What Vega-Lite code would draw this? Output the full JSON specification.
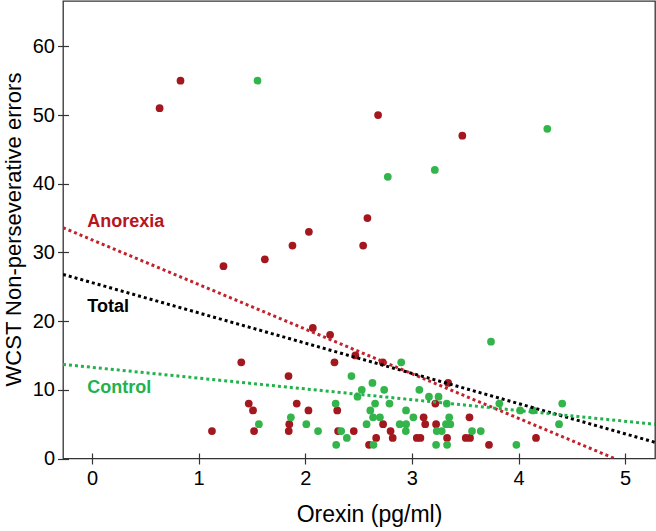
{
  "$schema": "https://vega.github.io/schema/vega-lite/v6.json",
  "width": 592,
  "height": 457.5,
  "autosize": "none",
  "padding": {"left": 63, "top": 1, "right": 1, "bottom": 72.5},
  "background": "white",
  "config": {
    "view": {"stroke": "#333", "strokeWidth": 1.3},
    "font": "Liberation Sans"
  },
  "datasets": {
    "points": [
      {"group": "Anorexia", "orexin": 0.634, "wcst": 51},
      {"group": "Anorexia", "orexin": 0.83, "wcst": 55},
      {"group": "Anorexia", "orexin": 2.683, "wcst": 50},
      {"group": "Anorexia", "orexin": 3.473, "wcst": 47},
      {"group": "Anorexia", "orexin": 2.583, "wcst": 35},
      {"group": "Anorexia", "orexin": 2.034, "wcst": 33},
      {"group": "Anorexia", "orexin": 2.543, "wcst": 31},
      {"group": "Anorexia", "orexin": 1.88, "wcst": 31},
      {"group": "Anorexia", "orexin": 1.621, "wcst": 29},
      {"group": "Anorexia", "orexin": 1.233, "wcst": 28},
      {"group": "Anorexia", "orexin": 2.071, "wcst": 19},
      {"group": "Anorexia", "orexin": 2.233, "wcst": 18},
      {"group": "Anorexia", "orexin": 2.47, "wcst": 15},
      {"group": "Anorexia", "orexin": 1.4, "wcst": 14},
      {"group": "Anorexia", "orexin": 2.274, "wcst": 14},
      {"group": "Anorexia", "orexin": 2.727, "wcst": 14},
      {"group": "Anorexia", "orexin": 1.843, "wcst": 12},
      {"group": "Anorexia", "orexin": 3.34, "wcst": 11},
      {"group": "Anorexia", "orexin": 1.47, "wcst": 8},
      {"group": "Anorexia", "orexin": 1.92, "wcst": 8},
      {"group": "Anorexia", "orexin": 3.22, "wcst": 8},
      {"group": "Anorexia", "orexin": 1.51, "wcst": 7},
      {"group": "Anorexia", "orexin": 2.03, "wcst": 7},
      {"group": "Anorexia", "orexin": 2.3, "wcst": 7},
      {"group": "Anorexia", "orexin": 3.11, "wcst": 6},
      {"group": "Anorexia", "orexin": 3.54, "wcst": 6},
      {"group": "Anorexia", "orexin": 1.85, "wcst": 5},
      {"group": "Anorexia", "orexin": 2.73, "wcst": 5},
      {"group": "Anorexia", "orexin": 3.125, "wcst": 5},
      {"group": "Anorexia", "orexin": 3.227, "wcst": 5},
      {"group": "Anorexia", "orexin": 1.125, "wcst": 4},
      {"group": "Anorexia", "orexin": 1.52, "wcst": 4},
      {"group": "Anorexia", "orexin": 1.845, "wcst": 4},
      {"group": "Anorexia", "orexin": 2.308, "wcst": 4},
      {"group": "Anorexia", "orexin": 2.455, "wcst": 4},
      {"group": "Anorexia", "orexin": 2.8, "wcst": 4},
      {"group": "Anorexia", "orexin": 2.665, "wcst": 3},
      {"group": "Anorexia", "orexin": 2.82, "wcst": 3},
      {"group": "Anorexia", "orexin": 3.046, "wcst": 3},
      {"group": "Anorexia", "orexin": 3.08, "wcst": 3},
      {"group": "Anorexia", "orexin": 3.33, "wcst": 3},
      {"group": "Anorexia", "orexin": 3.505, "wcst": 3},
      {"group": "Anorexia", "orexin": 3.545, "wcst": 3},
      {"group": "Anorexia", "orexin": 4.164, "wcst": 3},
      {"group": "Anorexia", "orexin": 2.598, "wcst": 2},
      {"group": "Anorexia", "orexin": 3.723, "wcst": 2},
      {"group": "Control", "orexin": 1.552, "wcst": 55},
      {"group": "Control", "orexin": 2.774, "wcst": 41},
      {"group": "Control", "orexin": 3.215, "wcst": 42},
      {"group": "Control", "orexin": 4.27, "wcst": 48},
      {"group": "Control", "orexin": 3.742, "wcst": 17},
      {"group": "Control", "orexin": 2.9, "wcst": 14},
      {"group": "Control", "orexin": 2.433, "wcst": 12},
      {"group": "Control", "orexin": 2.63, "wcst": 11},
      {"group": "Control", "orexin": 2.53, "wcst": 10},
      {"group": "Control", "orexin": 2.74, "wcst": 10},
      {"group": "Control", "orexin": 3.07, "wcst": 10},
      {"group": "Control", "orexin": 2.49, "wcst": 9},
      {"group": "Control", "orexin": 3.16, "wcst": 9},
      {"group": "Control", "orexin": 3.25, "wcst": 9},
      {"group": "Control", "orexin": 2.285, "wcst": 8},
      {"group": "Control", "orexin": 2.655, "wcst": 8},
      {"group": "Control", "orexin": 2.79, "wcst": 8},
      {"group": "Control", "orexin": 3.327, "wcst": 8},
      {"group": "Control", "orexin": 3.82, "wcst": 8},
      {"group": "Control", "orexin": 4.41, "wcst": 8},
      {"group": "Control", "orexin": 2.61, "wcst": 7},
      {"group": "Control", "orexin": 2.945, "wcst": 7},
      {"group": "Control", "orexin": 4.015, "wcst": 7},
      {"group": "Control", "orexin": 4.135, "wcst": 7},
      {"group": "Control", "orexin": 1.865, "wcst": 6},
      {"group": "Control", "orexin": 2.636, "wcst": 6},
      {"group": "Control", "orexin": 2.7, "wcst": 6},
      {"group": "Control", "orexin": 3.014, "wcst": 6},
      {"group": "Control", "orexin": 3.35, "wcst": 6},
      {"group": "Control", "orexin": 1.565, "wcst": 5},
      {"group": "Control", "orexin": 2.01, "wcst": 5},
      {"group": "Control", "orexin": 2.575, "wcst": 5},
      {"group": "Control", "orexin": 2.886, "wcst": 5},
      {"group": "Control", "orexin": 2.946, "wcst": 5},
      {"group": "Control", "orexin": 3.32, "wcst": 5},
      {"group": "Control", "orexin": 3.36, "wcst": 5},
      {"group": "Control", "orexin": 4.38, "wcst": 5},
      {"group": "Control", "orexin": 2.12, "wcst": 4},
      {"group": "Control", "orexin": 2.337, "wcst": 4},
      {"group": "Control", "orexin": 2.943, "wcst": 4},
      {"group": "Control", "orexin": 3.233, "wcst": 4},
      {"group": "Control", "orexin": 3.28, "wcst": 4},
      {"group": "Control", "orexin": 3.564, "wcst": 4},
      {"group": "Control", "orexin": 3.646, "wcst": 4},
      {"group": "Control", "orexin": 2.39, "wcst": 3},
      {"group": "Control", "orexin": 2.29, "wcst": 2},
      {"group": "Control", "orexin": 2.64, "wcst": 2},
      {"group": "Control", "orexin": 3.227, "wcst": 2},
      {"group": "Control", "orexin": 3.33, "wcst": 2},
      {"group": "Control", "orexin": 3.98, "wcst": 2}
    ],
    "fits": [
      {"fit": "Anorexia", "orexin": -0.272, "wcst": 33.6},
      {"fit": "Anorexia", "orexin": 4.9, "wcst": 0},
      {"fit": "Total", "orexin": -0.272, "wcst": 26.8},
      {"fit": "Total", "orexin": 5.28, "wcst": 2.36},
      {"fit": "Control", "orexin": -0.272, "wcst": 13.7},
      {"fit": "Control", "orexin": 5.28, "wcst": 4.98}
    ],
    "labels": [
      {"label": "Anorexia", "orexin": -0.044, "wcst": 34.4},
      {"label": "Total", "orexin": -0.044, "wcst": 22.1},
      {"label": "Control", "orexin": -0.044, "wcst": 10.3}
    ]
  },
  "layer": [
    {
      "data": {"name": "points"},
      "mark": {"type": "circle", "size": 60, "opacity": 1},
      "encoding": {
        "x": {
          "field": "orexin", "type": "quantitative",
          "scale": {"domain": [-0.272, 5.28], "nice": false, "zero": false},
          "axis": {
            "title": "Orexin (pg/ml)", "values": [0, 1, 2, 3, 4, 5], "format": "d",
            "domain": false, "grid": false, "offset": -5.5,
            "tickSize": 11, "tickColor": "#333", "tickWidth": 1.2,
            "labelFontSize": 20, "labelColor": "#000", "labelPadding": 4,
            "labelFlush": false, "labelOverlap": false,
            "titleFontSize": 23, "titleFontWeight": "normal", "titleColor": "#000",
            "titleX": 306, "titleY": 68, "titleBaseline": "alphabetic", "titleAnchor": "middle", "titleAlign": "center"
          }
        },
        "y": {
          "field": "wcst", "type": "quantitative",
          "scale": {"domain": [0, 66.6], "nice": false, "zero": false},
          "axis": {
            "title": "WCST Non-perseverative errors", "values": [0, 10, 20, 30, 40, 50, 60], "format": "d",
            "domain": false, "grid": false, "offset": -5.5,
            "tickSize": 11, "tickColor": "#333", "tickWidth": 1.2,
            "labelFontSize": 20, "labelColor": "#000", "labelPadding": 3,
            "labelFlush": false, "labelOverlap": false,
            "titleFontSize": 22, "titleFontWeight": "normal", "titleColor": "#000",
            "titleX": -48.5, "titleY": 228, "titleBaseline": "alphabetic", "titleAngle": -90, "titleAlign": "center"
          }
        },
        "color": {
          "field": "group", "type": "nominal",
          "scale": {"domain": ["Anorexia", "Control"], "range": ["#a3171e", "#33b54b"]},
          "legend": null
        }
      }
    },
    {
      "data": {"name": "fits"},
      "mark": {"type": "line", "strokeWidth": 3, "strokeDash": [3, 3], "clip": true},
      "encoding": {
        "x": {"field": "orexin", "type": "quantitative"},
        "y": {"field": "wcst", "type": "quantitative"},
        "detail": {"field": "fit"},
        "color": {
          "field": "fit", "type": "nominal",
          "scale": {"domain": ["Anorexia", "Total", "Control"], "range": ["#c4222b", "#000000", "#22b24c"]},
          "legend": null
        }
      }
    },
    {
      "data": {"name": "labels"},
      "mark": {"type": "text", "align": "left", "baseline": "middle", "fontSize": 18, "fontWeight": "bold"},
      "encoding": {
        "x": {"field": "orexin", "type": "quantitative"},
        "y": {"field": "wcst", "type": "quantitative"},
        "text": {"field": "label"},
        "color": {
          "field": "label", "type": "nominal",
          "scale": {"domain": ["Anorexia", "Total", "Control"], "range": ["#b8151d", "#000000", "#22b24c"]},
          "legend": null
        }
      }
    }
  ],
  "resolve": {"scale": {"color": "independent"}}
}
